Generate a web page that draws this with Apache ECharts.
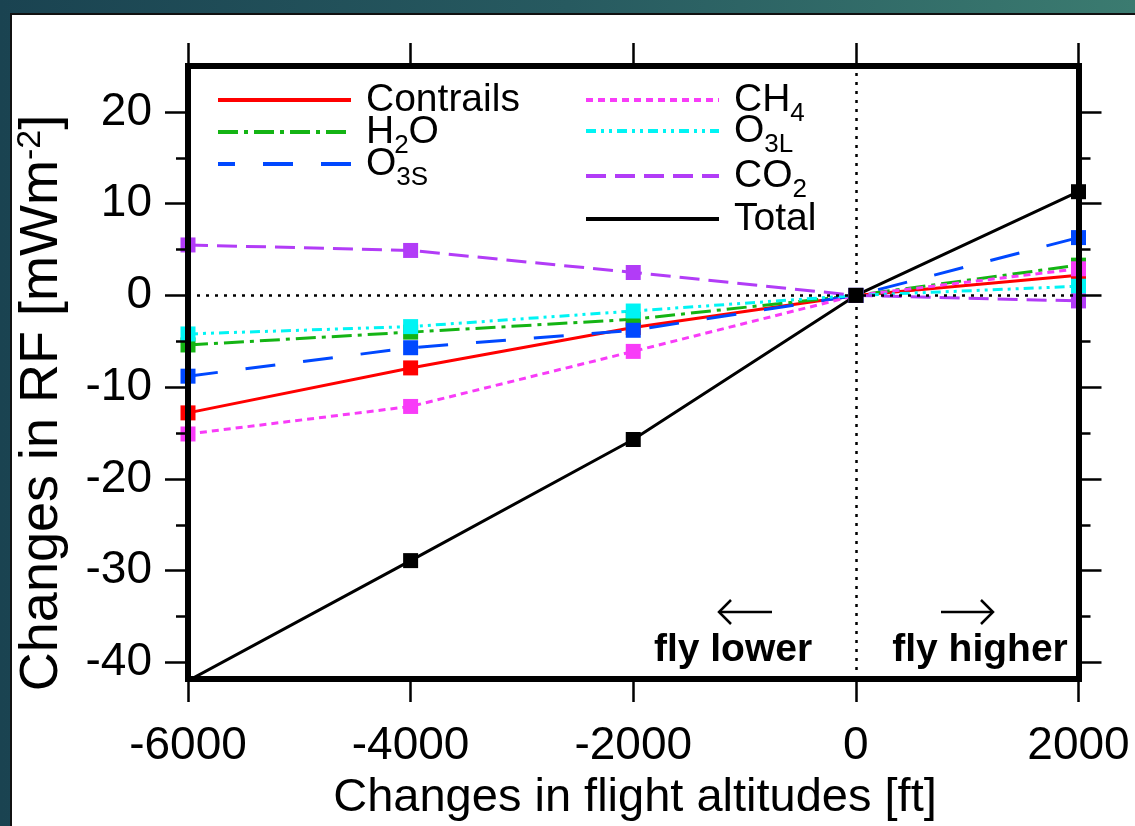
<!DOCTYPE html>
<html>
<head>
<meta charset="utf-8">
<title>Changes in RF vs flight altitude</title>
<script src="https://cdn.jsdelivr.net/npm/echarts@6/dist/echarts.min.js"></script>
<style>
  html, body { margin: 0; padding: 0; }
  body {
    width: 1135px; height: 826px; overflow: hidden; position: relative;
    background: linear-gradient(90deg, #1a4351 0%, #275a60 50%, #3b7b70 100%);
  }
  #panel {
    position: absolute; left: 10px; top: 13px; right: 0; bottom: 0;
    background: #fff; border-left: 2px solid #111; border-top: 2px solid #111;
  }
  #chart { position: absolute; left: 0; top: 0; width: 1135px; height: 826px; }
</style>
</head>
<body>
<div id="panel"></div>
<div id="chart"></div>
<script>
// 数据：从原图读取
const altitudes = [-6000, -4000, -2000, 0, 2000];
const contrails = [-12.8, -7.9, -3.5, 0, 2.2];
const h2o = [-5.4, -4.0, -2.6, 0, 3.3];
const o3s = [-8.8, -5.7, -3.8, 0, 6.3];
const ch4 = [-15.1, -12.1, -6.1, 0, 2.9];
const o3l = [-4.2, -3.4, -1.7, 0, 1.0];
const co2 = [5.5, 4.9, 2.5, 0, -0.6];
const total = [-42.0, -28.9, -15.7, 0, 11.3];

const yMajorTicks = [20, 10, 0, -10, -20, -30, -40];
const yMinorTicks = [15, 5, -5, -15, -25, -35];

const FONT = '"Liberation Sans", Arial, Helvetica, sans-serif';

// 系列样式
const STYLES = {
    contrails: { color: '#ff0000', dash: 'solid' },
    h2o: { color: '#14b414', dash: [20, 6, 4, 6] },
    o3s: { color: '#0048ff', dash: [30, 28] },
    ch4: { color: '#f83cf8', dash: [7, 5] },
    o3l: { color: '#00f4f4', dash: [10, 5, 3, 5, 3, 5] },
    co2: { color: '#b23cf7', dash: [20, 9] },
    total: { color: '#000000', dash: 'solid' }
};

function lineSeries(name, values, style) {
    return {
        name: name,
        type: 'line',
        data: altitudes.map((a, i) => [a, values[i]]),
        symbol: 'rect',
        symbolSize: 15,
        itemStyle: { color: style.color },
        lineStyle: { color: style.color, width: 3, type: style.dash, cap: 'butt' },
        emphasis: { disabled: true },
        z: 3
    };
}

const axisLine = { show: true, onZero: false, lineStyle: { color: '#000', width: 6, cap: 'square' } };
const noAxisLine = { show: false, onZero: false };
const tickStyle = { color: '#000', width: 2.5 };

function yAxisDef(position, ticks, len, showLine, showLabel) {
    return {
        type: 'value', position: position, offset: 0,
        min: -41.8, max: 25,
        axisLine: showLine ? axisLine : noAxisLine,
        axisTick: { show: true, inside: false, length: len, customValues: ticks, lineStyle: tickStyle },
        axisLabel: showLabel
            ? { show: true, customValues: ticks, fontSize: 46, fontFamily: FONT, color: '#000', margin: 36 }
            : { show: false },
        splitLine: { show: false },
        z: 10
    };
}

function xAxisDef(position, showLabel) {
    return {
        type: 'value', position: position,
        min: -6000, max: 2000, interval: 2000,
        axisLine: axisLine,
        axisTick: { show: true, inside: false, length: 23, lineStyle: tickStyle },
        axisLabel: showLabel
            ? { show: true, fontSize: 46, fontFamily: FONT, color: '#000', margin: 44,
                showMinLabel: true, showMaxLabel: true, formatter: v => String(v) }
            : { show: false },
        splitLine: { show: false },
        z: 10
    };
}

// 图例（手绘，下标用单独的文字块）
const MAIN_FONT = '39px ' + FONT;
const SUB_FONT = '26px ' + FONT;
const legendEntries = [
    { key: 'contrails', parts: [['Contrails', 0]], x: 218, y: 100 },
    { key: 'h2o', parts: [['H', 0], ['2', 1], ['O', 0]], x: 218, y: 132 },
    { key: 'o3s', parts: [['O', 0], ['3S', 1]], x: 218, y: 164, offset: 13 },
    { key: 'ch4', parts: [['CH', 0], ['4', 1]], x: 586, y: 100 },
    { key: 'o3l', parts: [['O', 0], ['3L', 1]], x: 586, y: 131 },
    { key: 'co2', parts: [['CO', 0], ['2', 1]], x: 586, y: 176 },
    { key: 'total', parts: [['Total', 0]], x: 586, y: 219 }
];

const measureCtx = document.createElement('canvas').getContext('2d');
function textWidth(str, font) {
    measureCtx.font = font;
    return measureCtx.measureText(str).width;
}

const graphics = [];
legendEntries.forEach(e => {
    const st = STYLES[e.key];
    graphics.push({
        type: 'line', silent: true, z: 20,
        shape: { x1: e.x, y1: e.y, x2: e.x + 133, y2: e.y },
        style: {
            stroke: st.color, lineWidth: 4, lineCap: 'butt',
            lineDash: st.dash === 'solid' ? null : st.dash,
            lineDashOffset: e.offset || 0
        }
    });
    let cx = e.x + 148;
    e.parts.forEach(([str, isSub]) => {
        const font = isSub ? SUB_FONT : MAIN_FONT;
        graphics.push({
            type: 'text', silent: true, z: 20,
            x: cx, y: e.y + (isSub ? 14 : 0),
            style: { text: str, font: font, fill: '#000', align: 'left', verticalAlign: 'middle' }
        });
        cx += textWidth(str, font);
    });
});

// 箭头
function arrow(x1, x2, y) {
    const dir = x2 > x1 ? -1 : 1;
    return [
        { type: 'line', silent: true, z: 20, shape: { x1: x1, y1: y, x2: x2, y2: y },
          style: { stroke: '#000', lineWidth: 2.5 } },
        { type: 'polyline', silent: true, z: 20,
          shape: { points: [[x2 + dir * 12, y - 12], [x2, y], [x2 + dir * 12, y + 12]] },
          style: { stroke: '#000', lineWidth: 2.5, fill: null } }
    ];
}
graphics.push(...arrow(772, 719, 612), ...arrow(941, 993, 612));

// 注释文字和坐标轴标题
graphics.push(
    { type: 'text', silent: true, z: 20, x: 733, y: 650,
      style: { text: 'fly lower', font: 'bold 39px ' + FONT, fill: '#000', align: 'center', verticalAlign: 'middle' } },
    { type: 'text', silent: true, z: 20, x: 980, y: 650,
      style: { text: 'fly higher', font: 'bold 39px ' + FONT, fill: '#000', align: 'center', verticalAlign: 'middle' } },
    { type: 'text', silent: true, z: 20, x: 42, y: 403, rotation: Math.PI / 2,
      style: {
          text: '{m|Changes in RF [mWm}{p|-2}{m|]}',
          rich: {
              m: { fontSize: 54, fontFamily: FONT, color: '#000', lineHeight: 56 },
              p: { fontSize: 34, fontFamily: FONT, color: '#000', lineHeight: 30, verticalAlign: 'top' }
          },
          align: 'center', verticalAlign: 'middle'
      } },
    { type: 'text', silent: true, z: 20, x: 635, y: 798,
      style: { text: 'Changes in flight altitudes [ft]', font: '47px ' + FONT, fill: '#000',
               align: 'center', verticalAlign: 'middle' } }
);

const chart = echarts.init(document.getElementById('chart'), null, { renderer: 'canvas' });

const series = [
    lineSeries('Contrails', contrails, STYLES.contrails),
    lineSeries('H2O', h2o, STYLES.h2o),
    lineSeries('O3S', o3s, STYLES.o3s),
    lineSeries('CH4', ch4, STYLES.ch4),
    lineSeries('O3L', o3l, STYLES.o3l),
    lineSeries('CO2', co2, STYLES.co2),
    lineSeries('Total', total, STYLES.total)
];
// 零线（点线）
series[0].markLine = {
    silent: true, symbol: 'none', animation: false,
    label: { show: false },
    lineStyle: { color: '#000', width: 2.5, type: [3, 6] },
    data: [{ yAxis: 0 }, { xAxis: 0 }]
};

chart.setOption({
    backgroundColor: 'transparent',
    animation: false,
    grid: { left: 188, right: 56.5, top: 66, bottom: 147, containLabel: false, outerBoundsMode: 'none' },
    xAxis: [xAxisDef('bottom', true), xAxisDef('top', false)],
    yAxis: [
        yAxisDef('left', yMajorTicks, 23, true, true),
        yAxisDef('left', yMinorTicks, 12, false, false),
        yAxisDef('right', yMajorTicks, 23, true, false),
        yAxisDef('right', yMinorTicks, 12, false, false)
    ],
    graphic: graphics,
    series: series
});
</script>
</body>
</html>
